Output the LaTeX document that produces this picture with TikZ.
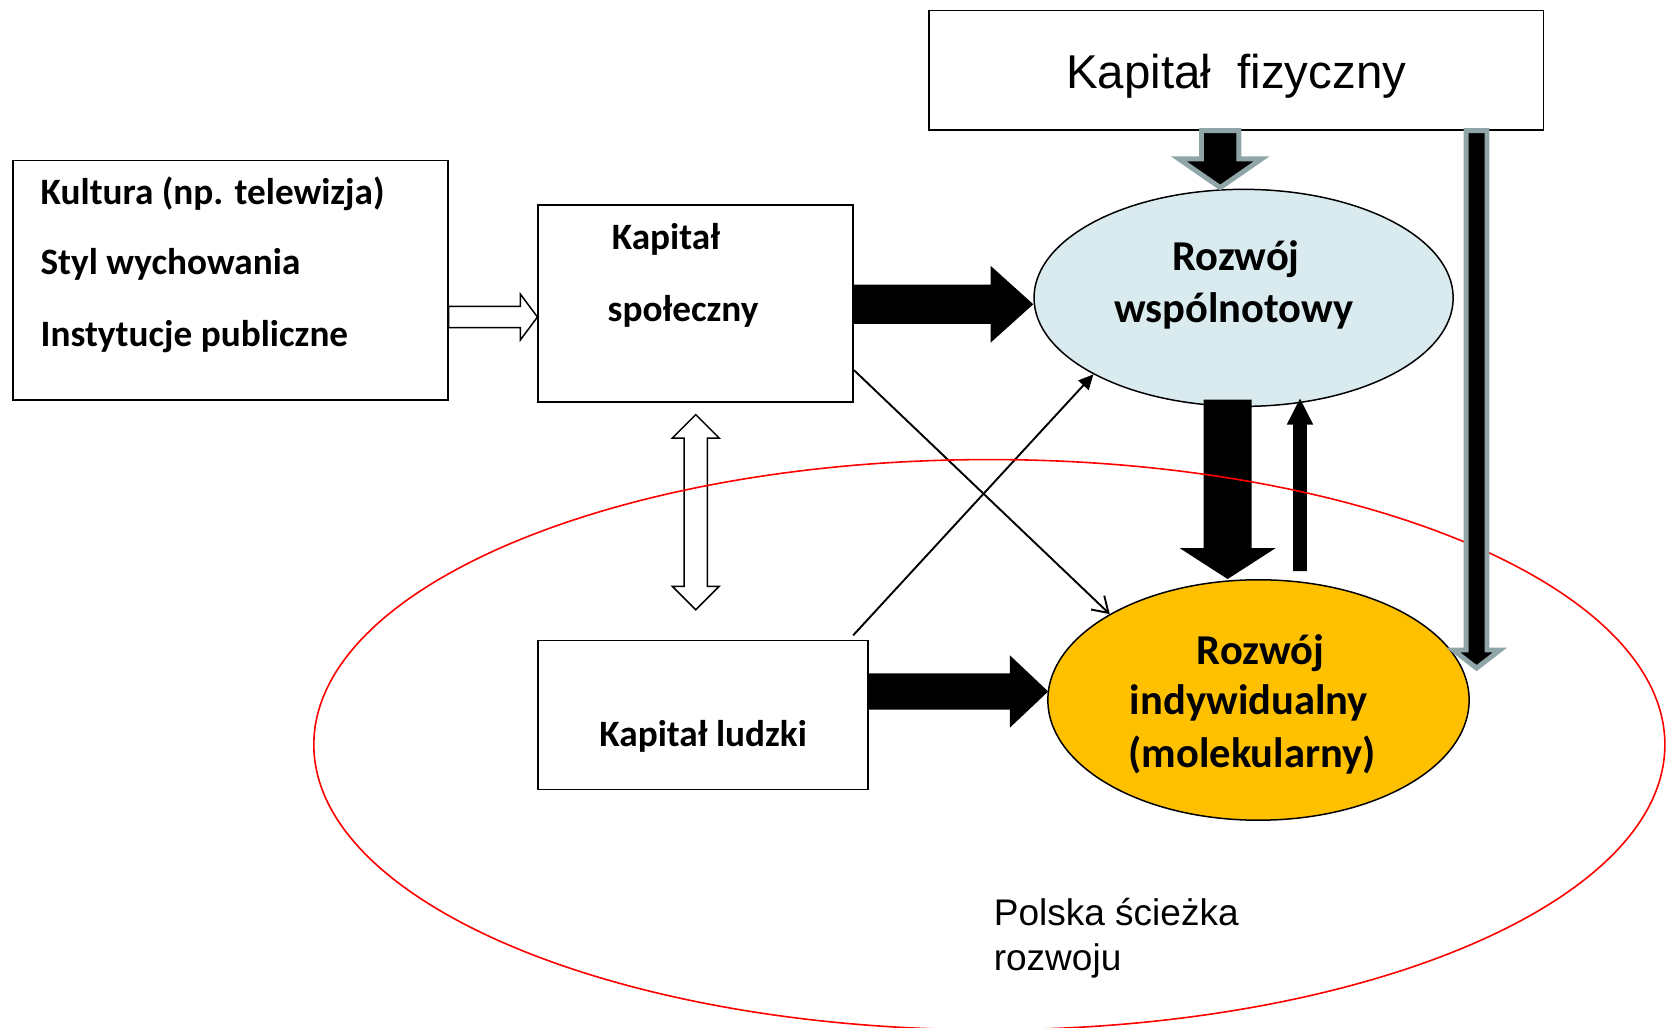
\documentclass[tikz,border=0pt]{standalone}
\usepackage{fontspec}
\setmainfont{Carlito}
\newfontfamily\arialfont{Liberation Sans}
\usetikzlibrary{calc,arrows.meta,shapes.geometric}
\definecolor{commblue}{RGB}{218,235,239}
\definecolor{indyellow}{RGB}{255,192,0}
\definecolor{outlinegray}{RGB}{143,165,168}
\newcommand\FatArrow[6]{%
  \coordinate (fas) at (#2);
  \coordinate (fae) at (#3);
  \coordinate (fab) at ($(fae)!#6!(fas)$);
  \draw[#1] ($(fas)!#4!90:(fae)$) -- ($(fab)!#4!-90:(fas)$) -- ($(fab)!#5!-90:(fas)$) -- (fae) -- ($(fab)!#5!90:(fas)$) -- ($(fab)!#4!90:(fas)$) -- ($(fas)!#4!-90:(fae)$) -- cycle;
}
\newcommand\DblArrow[6]{%
  \coordinate (das) at (#2);
  \coordinate (dae) at (#3);
  \coordinate (daa) at ($(das)!#6!(dae)$);
  \coordinate (dab) at ($(dae)!#6!(das)$);
  \draw[#1] (das) -- ($(daa)!#5!90:(dae)$) -- ($(daa)!#4!90:(dae)$) -- ($(dab)!#4!-90:(das)$) -- ($(dab)!#5!-90:(das)$) -- (dae) -- ($(dab)!#5!90:(das)$) -- ($(dab)!#4!90:(das)$) -- ($(daa)!#4!-90:(dae)$) -- ($(daa)!#5!-90:(dae)$) -- cycle;
}
\begin{document}
\begin{tikzpicture}[x=1pt,y=-1pt,
  box/.style={draw, line width=1.6pt, inner sep=0pt, fill=white},
  oval/.style={draw, ellipse, line width=1.4pt, inner sep=0pt},
  tb/.style={inner sep=0pt, font=\fontsize{35}{41}\selectfont\bfseries},
  te/.style={inner sep=0pt, font=\fontsize{40}{47}\selectfont\bfseries},
  ta/.style={inner sep=0pt, font=\fontsize{44.6}{52}\selectfont\arialfont},
  tp/.style={inner sep=0pt, font=\fontsize{34.8}{41}\selectfont\arialfont},
  solidarrow/.style={fill=black, draw=none},
  hollowarrow/.style={fill=white, draw=black, line width=1.4pt, line join=miter},
  grayarrow/.style={fill=black, draw=outlinegray, line width=4.6pt, line join=miter},
  thinline/.style={draw, line width=1.8pt}]
\fill[white] (0,0) rectangle (1567,966);
\useasboundingbox (0,0) rectangle (1567,966);

% boxes and ovals
\node[box, minimum width=409pt, minimum height=225pt] (cult) at (216.5,263.5) {};
\node[box, minimum width=296pt, minimum height=185pt] (soc) at (654,285.5) {};
\node[box, minimum width=578pt, minimum height=112pt] (kf) at (1162,66) {};
\node[box, minimum width=310pt, minimum height=140pt] (hum) at (661,672) {};
\node[oval, fill=commblue, minimum width=394pt, minimum height=204pt] (comm) at (1169,280) {};
\node[oval, fill=indyellow, minimum width=396pt, minimum height=226pt] (ind) at (1183,658) {};

% texts
\node[tb, anchor=base west] (c1) at (38,192) {Kultura (np. telewizja)};
\node[tb, anchor=base west] (c2) at (38,258) {Styl wychowania};
\node[tb, anchor=base west] (c3) at (38,326) {Instytucje publiczne};
\node[tb, anchor=base west] (s1) at (575,235) {Kapitał};
\node[tb, anchor=base west] (s2) at (571,302) {społeczny};
\node[ta, anchor=base] (k1) at (1162,83) {Kapitał~~fizyczny};
\node[te, anchor=base] (w1) at (1162,254) {Rozwój};
\node[te, anchor=base] (w2) at (1160,303) {wspólnotowy};
\node[te, anchor=base] (i1) at (1185,625) {Rozwój};
\node[te, anchor=base] (i2) at (1174,672) {indywidualny};
\node[te, anchor=base] (i3) at (1177,721) {(molekularny)};
\node[tb, anchor=base] (h1) at (661,702) {Kapitał ludzki};
\node[tp, anchor=base west] (p1) at (934,870) {Polska ścieżka};
\node[tp, anchor=base west] (p2) at (934,912) {rozwoju};

% hollow arrow culture -> social
\FatArrow{hollowarrow}{[yshift=-34.5pt]cult.east}{[yshift=-12.5pt]soc.west}{10pt}{21.5pt}{16pt}

% solid arrow social -> community
\coordinate (a2s) at ([yshift=-0.5pt]soc.east);
\coordinate (a2e) at (a2s -| comm.west);
\FatArrow{solidarrow}{a2s}{a2e}{18.5pt}{36pt}{40pt}

% solid arrow human -> individual
\coordinate (a3s) at ([yshift=22pt]hum.east);
\coordinate (a3e) at ([xshift=1pt]a3s -| ind.west);
\FatArrow{solidarrow}{a3s}{a3e}{17pt}{34pt}{36pt}

% community -> individual (thick) and back (thin)
\FatArrow{solidarrow}{[xshift=-15pt,yshift=7pt]comm.south}{[xshift=-29pt]ind.north}{22.5pt}{45pt}{29pt}
\FatArrow{solidarrow}{[xshift=39pt,yshift=7.5pt]ind.north}{[xshift=53pt,yshift=8pt]comm.south}{6.5pt}{12.5pt}{24.5pt}

% double hollow arrow social <-> human
\DblArrow{hollowarrow}{[yshift=-11pt]soc.south}{[xshift=-7pt,yshift=28pt]hum.north}{11pt}{22pt}{22pt}

% thin connectors
\draw[thinline, -{Straight Barb[length=14pt,width=18pt]}] ([yshift=-62.5pt]soc.east) -- (ind.150);
\draw[thinline, -{Triangle[length=14pt,width=13pt]}] ([xshift=141pt,yshift=4pt]hum.north) -- (comm.207);

% red region
\node[ellipse, draw=red, line width=1.5pt, inner sep=0pt, minimum width=1270pt, minimum height=536pt] (region) at (930,700) {};

% gray-outlined arrows from physical capital
\FatArrow{grayarrow}{[xshift=-15pt]kf.south}{[xshift=-22pt,yshift=1pt]comm.north}{17.6pt}{39pt}{27pt}
\coordinate (rtip) at (1388,628);
\FatArrow{grayarrow}{[xshift=226pt]kf.south}{rtip}{9.8pt}{22pt}{17pt}
\end{tikzpicture}
\end{document}
